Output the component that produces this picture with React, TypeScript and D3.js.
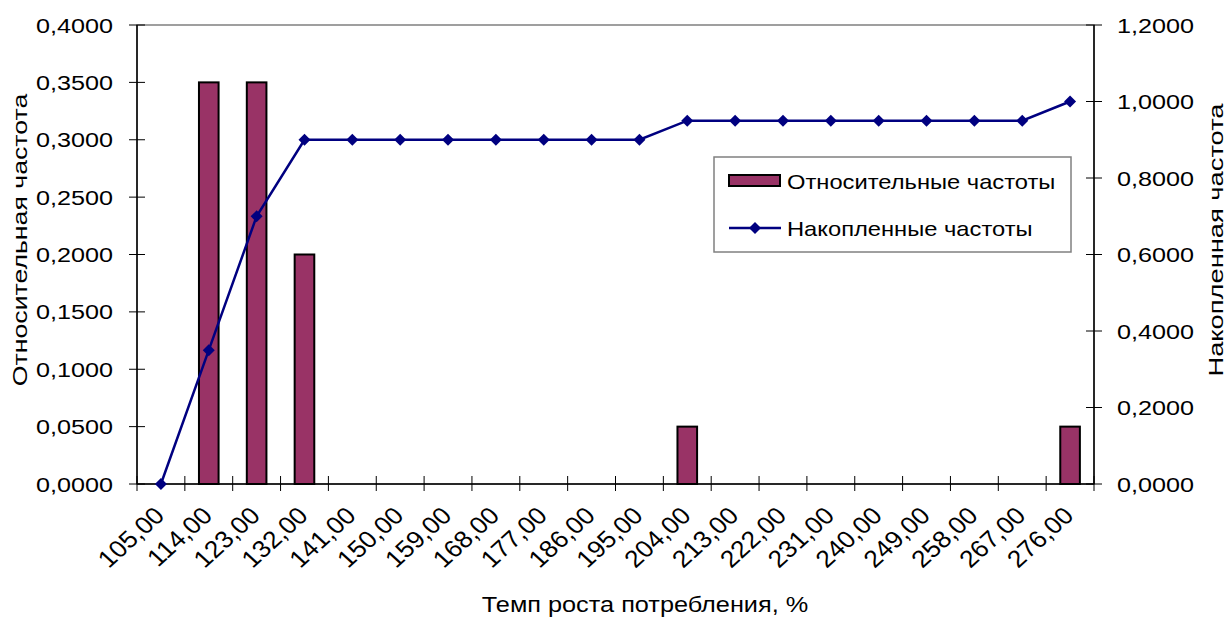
import React from "react";
import * as d3 from "d3";

const categories = ["105,00","114,00","123,00","132,00","141,00","150,00","159,00","168,00","177,00","186,00","195,00","204,00","213,00","222,00","231,00","240,00","249,00","258,00","267,00","276,00"];
const relFreq = [0, 0.35, 0.35, 0.2, 0, 0, 0, 0, 0, 0, 0, 0.05, 0, 0, 0, 0, 0, 0, 0, 0.05];
const cumFreq = [0, 0.35, 0.7, 0.9, 0.9, 0.9, 0.9, 0.9, 0.9, 0.9, 0.9, 0.95, 0.95, 0.95, 0.95, 0.95, 0.95, 0.95, 0.95, 1.0];
const leftTicks = [0, 0.05, 0.1, 0.15, 0.2, 0.25, 0.3, 0.35, 0.4];
const rightTicks = [0, 0.2, 0.4, 0.6, 0.8, 1.0, 1.2];

const W = 1229, H = 621;
const L = 137, R = 1094, T = 25, B = 484;
const FONT = "'Liberation Sans', Arial, sans-serif";
const fmt = (v: number) => v.toFixed(4).replace(".", ",");

export default function App() {
  const x = d3.scaleBand<string>().domain(categories).range([L, R]).padding(0);
  const yL = d3.scaleLinear().domain([0, 0.4]).range([B, T]);
  const yR = d3.scaleLinear().domain([0, 1.2]).range([B, T]);
  const bw = x.bandwidth();
  const barW = bw * 0.41;
  const line = d3.line<number>().x((_, i) => x(categories[i])! + bw / 2).y(d => yR(d));
  const diamond = (cx: number, cy: number, r = 6) => `M${cx},${cy - r}L${cx + r},${cy}L${cx},${cy + r}L${cx - r},${cy}Z`;
  const txt = (key: any, tx: number, ty: number, s: string, anchor: string, sx: number, fs = 21, rot = 0) => (
    <text key={key} transform={`translate(${tx},${ty}) scale(${sx},1) rotate(${rot})`} textAnchor={anchor} fontSize={fs} fontFamily={FONT} fill="#000">{s}</text>
  );
  const vtxt = (key: any, tx: number, ty: number, s: string, sl: number, fs = 21) => (
    <text key={key} transform={`translate(${tx},${ty}) rotate(-90) scale(${sl},1)`} textAnchor="middle" fontSize={fs} fontFamily={FONT} fill="#000">{s}</text>
  );
  const boundaries = categories.map(c => x(c)!).concat([R]);
  return (
    <svg width={W} height={H} style={{ position: "absolute", left: 0, top: 0 }}>
      <rect x={0} y={0} width={W} height={H} fill="#fff" />
      <rect x={L} y={T} width={R - L} height={B - T} fill="#fff" stroke="#808080" strokeWidth={1.5} />
      {relFreq.map((v, i) => v > 0 ? (
        <rect key={"b" + i} x={x(categories[i])! + bw / 2 - barW / 2} y={yL(v)} width={barW} height={B - yL(v)} fill="#993366" stroke="#000" strokeWidth={2} />
      ) : null)}
      <line x1={L} x2={L} y1={T} y2={B} stroke="#000" strokeWidth={1.5} />
      <line x1={R} x2={R} y1={T} y2={B} stroke="#000" strokeWidth={1.5} />
      <line x1={L} x2={R} y1={B} y2={B} stroke="#000" strokeWidth={1.5} />
      {leftTicks.map((t, i) => (
        <g key={"lt" + i}>
          <line x1={L - 8} x2={L + 8} y1={yL(t)} y2={yL(t)} stroke="#000" strokeWidth={1} />
          {txt("ltt" + i, 113, yL(t) + 7.5, fmt(t), "end", 1.2)}
        </g>
      ))}
      {rightTicks.map((t, i) => (
        <g key={"rt" + i}>
          <line x1={R - 8} x2={R + 8} y1={yR(t)} y2={yR(t)} stroke="#000" strokeWidth={1} />
          {txt("rtt" + i, 1117, yR(t) + 7.5, fmt(t), "start", 1.2)}
        </g>
      ))}
      {boundaries.map((b, i) => (
        <line key={"xt" + i} x1={b} x2={b} y1={B - 8} y2={B + 7} stroke="#000" strokeWidth={1} />
      ))}
      {categories.map((c, i) => txt("xl" + i, x(c)! + bw / 2 + 5, B + 33, c, "end", 1.1, 24, -45))}
      <path d={line(cumFreq)!} fill="none" stroke="#000080" strokeWidth={2.5} />
      {cumFreq.map((v, i) => (
        <path key={"m" + i} d={diamond(x(categories[i])! + bw / 2, yR(v))} fill="#000080" />
      ))}
      {vtxt("yl", 27, 240, "Относительная частота", 1.27)}
      {vtxt("yr", 1223, 240, "Накопленная частота", 1.3)}
      {txt("xt", 645, 612, "Темп роста потребления, %", "middle", 1.15, 22)}
      <rect x={714} y={157} width={357} height={95} fill="#fff" stroke="#808080" strokeWidth={1.5} />
      <rect x={729} y={175} width={51} height={11} fill="#993366" stroke="#000" strokeWidth={2} />
      {txt("lg1", 787, 189, "Относительные частоты", "start", 1.13)}
      <line x1={729} x2={781} y1={228} y2={228} stroke="#000080" strokeWidth={2.5} />
      <path d={diamond(755, 228)} fill="#000080" />
      {txt("lg2", 787, 236, "Накопленные частоты", "start", 1.13)}
    </svg>
  );
}
